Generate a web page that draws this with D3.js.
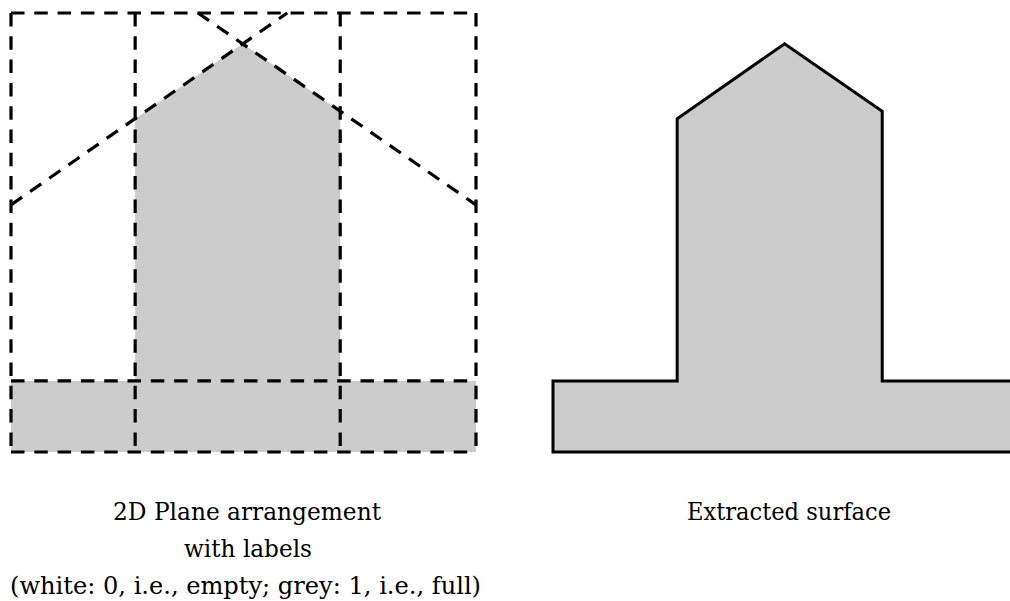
<!DOCTYPE html>
<html>
<head>
<meta charset="utf-8">
<script src="https://cdn.jsdelivr.net/npm/d3@7"></script>
<style>
  html, body { margin: 0; padding: 0; background: #fff; }
  svg { display: block; }
</style>
</head>
<body>
<svg id="chart" width="1010" height="601"></svg>
<script>
// ---- data (plane coordinates in a 0..100 x 0..100 domain) ----
const verticalPlanes = [0, 26.7, 70.8, 100];
const horizontalPlanes = [0, 16.2, 100];
const diagonalPlanes = [
  [[0, 56.3], [59.4, 100]],
  [[40.2, 100], [100, 56.3]]
];
// extracted (full, label 1) region outline
const fullRegion = [
  [0, 0], [100, 0], [100, 16.2], [70.8, 16.2], [70.8, 77.6],
  [49.8, 93.0], [26.7, 75.9], [26.7, 16.2], [0, 16.2]
];
const leftCaption = ["2D Plane arrangement", "with labels", "(white: 0, i.e., empty; grey: 1, i.e., full)"];
const rightCaption = ["Extracted surface"];

// ---- layout ----
const svg = d3.select("#chart");
const xL = d3.scaleLinear().domain([0, 100]).range([11, 476]);
const xR = d3.scaleLinear().domain([0, 100]).range([553, 1018]);
const y = d3.scaleLinear().domain([0, 100]).range([452, 13]);
const grey = "#cccccc";
const dash = "13.5,9.8";
const sw = 3.2;

// left panel
const gL = svg.append("g");
gL.append("path")
  .attr("d", d3.line().x(d => xL(d[0])).y(d => y(d[1])).curve(d3.curveLinearClosed)(fullRegion))
  .attr("fill", grey).attr("stroke", "none");

gL.selectAll("line.v").data(verticalPlanes).join("line")
  .attr("x1", d => xL(d)).attr("x2", d => xL(d))
  .attr("y1", y(100)).attr("y2", y(0))
  .attr("stroke", "#000").attr("stroke-width", sw).attr("stroke-dasharray", dash);
gL.selectAll("line.h").data(horizontalPlanes).join("line")
  .attr("x1", xL(0)).attr("x2", xL(100))
  .attr("y1", d => y(d)).attr("y2", d => y(d))
  .attr("stroke", "#000").attr("stroke-width", sw).attr("stroke-dasharray", dash);
gL.selectAll("line.d").data(diagonalPlanes).join("line")
  .attr("x1", d => xL(d[0][0])).attr("y1", d => y(d[0][1]))
  .attr("x2", d => xL(d[1][0])).attr("y2", d => y(d[1][1]))
  .attr("stroke", "#000").attr("stroke-width", sw).attr("stroke-dasharray", dash);

// right panel
const gR = svg.append("g");
gR.append("path")
  .attr("d", d3.line().x(d => xR(d[0])).y(d => y(d[1])).curve(d3.curveLinearClosed)(fullRegion))
  .attr("fill", grey).attr("stroke", "#000").attr("stroke-width", 3)
  .attr("stroke-linejoin", "miter");

// captions
const font = "'DejaVu Serif Condensed', 'DejaVu Serif', serif";
const capL = [
  {t: leftCaption[0], x: 247, y: 520, w: 268},
  {t: leftCaption[1], x: 248, y: 557, w: 128},
  {t: leftCaption[2], x: 245.5, y: 594, w: 471},
  {t: rightCaption[0], x: 789, y: 520, w: 204}
];
svg.selectAll("text.cap").data(capL).join("text")
  .attr("class", "cap")
  .attr("x", d => d.x).attr("y", d => d.y)
  .attr("text-anchor", "middle")
  .style("font-family", font).style("font-size", "23.5px").attr("fill", "#000")
  .attr("textLength", d => d.w).attr("lengthAdjust", "spacingAndGlyphs")
  .text(d => d.t);
</script>
</body>
</html>
